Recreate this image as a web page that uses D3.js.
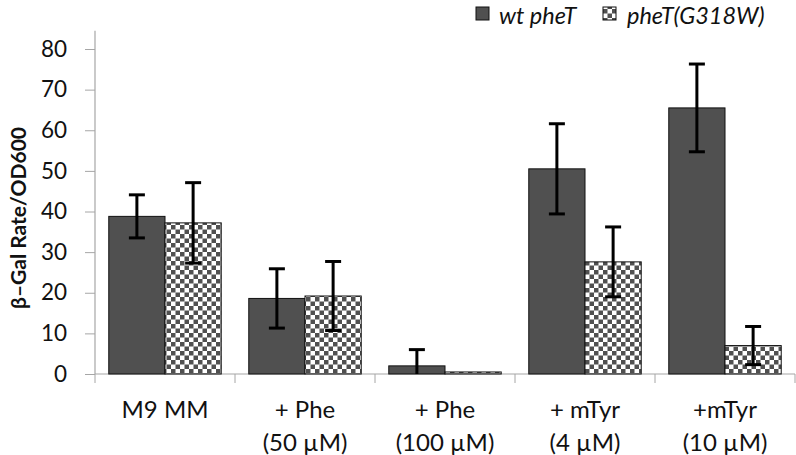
<!DOCTYPE html>
<html><head><meta charset="utf-8">
<script src="https://cdn.jsdelivr.net/npm/d3@7"></script>
<style>body{margin:0;background:#fff}svg{display:block}text{font-family:Lato,"Open Sans",sans-serif}</style>
</head><body><svg id="c" width="796" height="455"></svg>
<script>
const categories = [["M9 MM"], ["+ Phe", "(50 \u00b5M)"], ["+ Phe", "(100 \u00b5M)"], ["+ mTyr", "(4 \u00b5M)"], ["+mTyr", "(10 \u00b5M)"]];
const seriesNames = ["wt pheT", "pheT(G318W)"];
const wtValues = [38.8, 18.6, 2.0, 50.5, 65.5];
const wtErrors = [5.3, 7.3, 4.0, 11.1, 10.8];
const mutValues = [37.2, 19.2, 0.5, 27.6, 7.0];
const mutErrors = [9.9, 8.5, 0, 8.6, 4.7];
const yTicks = [0, 10, 20, 30, 40, 50, 60, 70, 80];
const yMax = 84.5;

(function(){
const svg = d3.select("#c");
const defs = svg.append("defs");
const pat = defs.append("pattern").attr("id","chk").attr("patternUnits","userSpaceOnUse")
  .attr("width",9).attr("height",9);
pat.append("rect").attr("width",9).attr("height",9).attr("fill","#fff");
pat.append("rect").attr("width",4.5).attr("height",4.5).attr("fill","#505050");
pat.append("rect").attr("x",4.5).attr("y",4.5).attr("width",4.5).attr("height",4.5).attr("fill","#505050");

const mL = 95, mR = 795, mB = 374, mT = 49;
const x = d3.scaleBand().domain(d3.range(categories.length)).range([mL, mR]).paddingInner(0).paddingOuter(0);
const y = d3.scaleLinear().domain([0, 80]).range([mB, mT]);
const inner = d3.scaleBand().domain([0,1]).range([0, x.bandwidth()]).paddingInner(0).paddingOuter(0.245);

// y axis
const ya = svg.append("g").attr("transform",`translate(${mL},0)`)
  .call(d3.axisLeft(y).tickValues(yTicks).tickSize(10).tickPadding(18).tickSizeOuter(0));
ya.select(".domain").remove();
ya.append("line").attr("x1",0).attr("x2",0).attr("y1",y(0)).attr("y2",y(yMax)).attr("stroke","#a6a6a6").attr("stroke-width",1.2);
ya.selectAll(".tick line").attr("stroke","#a6a6a6");
ya.selectAll(".tick text").attr("font-size",22.5).attr("fill","#111").attr("font-family","Lato,'Open Sans',sans-serif");

// x axis
const xa = svg.append("g").attr("transform",`translate(0,${mB})`);
xa.append("line").attr("x1",mL).attr("x2",mR).attr("stroke","#a6a6a6").attr("stroke-width",1.2);
const bounds = d3.range(categories.length+1).map(i => i < categories.length ? x(i) : x(categories.length-1)+x.bandwidth());
xa.selectAll(".bt").data(bounds).join("line").attr("x1",d=>d).attr("x2",d=>d).attr("y1",0).attr("y2",9).attr("stroke","#a6a6a6");

const lab = svg.append("g");
categories.forEach((c,i)=>{
  c.forEach((t,j)=>{
    lab.append("text").attr("x", x(i)+x.bandwidth()/2).attr("y", 418 + j*33)
      .attr("text-anchor","middle").attr("font-size",24).attr("fill","#111").text(t);
  });
});

// bars
const series = [{v:wtValues,e:wtErrors,fill:"#505050"},{v:mutValues,e:mutErrors,fill:"url(#chk)"}];
series.forEach((s,si)=>{
  const g = svg.append("g");
  g.selectAll("rect").data(s.v).join("rect")
    .attr("x",(d,i)=>x(i)+inner(si)).attr("width",inner.bandwidth())
    .attr("y",d=>y(d)).attr("height",d=>y(0)-y(d))
    .attr("fill",s.fill).attr("stroke","#111").attr("stroke-width",1);
});
series.forEach((s,si)=>{
  const g = svg.append("g").attr("stroke","#000").attr("stroke-width",3);
  s.v.forEach((d,i)=>{
    if (s.e[i] <= 0) return;
    const cx = x(i)+inner(si)+inner.bandwidth()/2;
    const hi = y(d+s.e[i]), lo = y(Math.max(0,d-s.e[i]));
    g.append("line").attr("x1",cx).attr("x2",cx).attr("y1",hi).attr("y2",lo);
    g.append("line").attr("x1",cx-8).attr("x2",cx+8).attr("y1",hi).attr("y2",hi);
    if (d-s.e[i] > 0) g.append("line").attr("x1",cx-8).attr("x2",cx+8).attr("y1",lo).attr("y2",lo);
  });
});

// y label
svg.append("text").attr("transform","translate(26,218) rotate(-90)").attr("text-anchor","middle")
  .attr("font-size",21).attr("font-weight","bold").attr("fill","#111").text("\u03b2\u2013Gal Rate/OD600");

// legend
const lg = svg.append("g");
const legX = [476, 603];
const legT = [499, 627];
seriesNames.forEach((n,i)=>{
  lg.append("rect").attr("x",legX[i]).attr("y",7).attr("width",13).attr("height",13)
    .attr("fill",series[i].fill).attr("stroke","#111").attr("stroke-width",1);
  lg.append("text").attr("x",legT[i]).attr("y",23.5).attr("font-size",23.5).attr("font-style","italic")
    .attr("fill","#111").text(n);
});
})();
</script></body></html>
